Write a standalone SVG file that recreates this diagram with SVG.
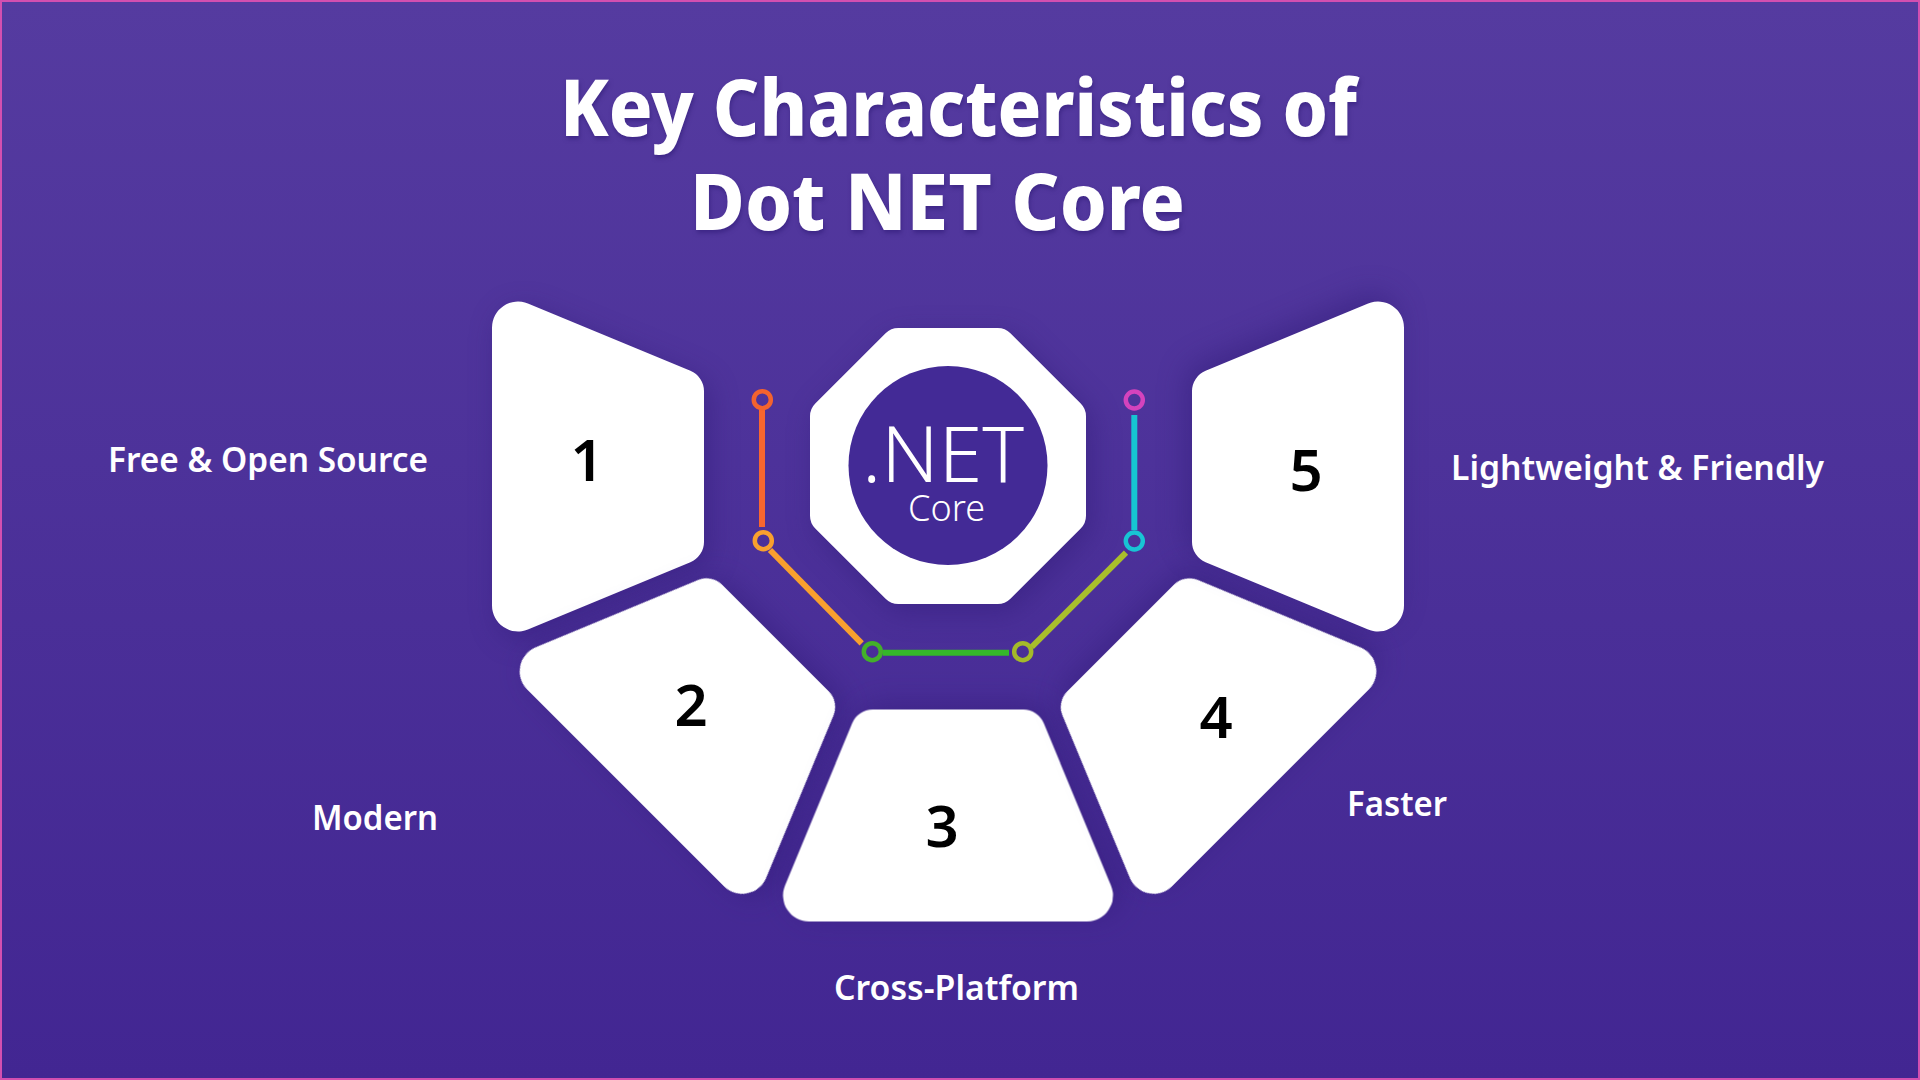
<svg xmlns="http://www.w3.org/2000/svg" width="1920" height="1080" viewBox="0 0 1920 1080">
<style>
text{font-family:"Noto Sans","Open Sans",sans-serif}
.seg{fill:#fff;filter:url(#sh)}
.num{fill:#000;font-size:58px;font-weight:600;text-anchor:middle}
.lab{fill:#fff;font-size:34px;font-weight:600}
.title{fill:#fff;font-size:78px;font-weight:800;filter:url(#ts)}
.ln{fill:none;stroke-width:6}
.rg{fill:none;stroke-width:4.5}
</style>
<defs>
<linearGradient id="bg" x1="0" y1="0" x2="0" y2="1"><stop offset="0" stop-color="#553ba0"/><stop offset="1" stop-color="#422692"/></linearGradient>
<filter id="sh" x="-30%" y="-30%" width="160%" height="160%" color-interpolation-filters="sRGB"><feDropShadow dx="6" dy="8" stdDeviation="14" flood-color="#2a1670" flood-opacity="0.4"/></filter>
<filter id="ts" x="-5%" y="-10%" width="110%" height="130%" color-interpolation-filters="sRGB"><feDropShadow dx="1" dy="3" stdDeviation="2" flood-color="#2a1670" flood-opacity="0.5"/></filter>
<path id="seg" d="M492,326.5 A26,26 0 0 1 527.9,302.5 L690.4,369.8 A22,22 0 0 1 704,390.1 L704,540.9 A22,22 0 0 1 690.4,561.2 L527.9,628.5 A26,26 0 0 1 492,604.5 Z"/>
</defs>
<rect x="1" y="1" width="1918" height="1078" fill="url(#bg)" stroke="#d34fb0" stroke-width="2"/>
<g id="title"><text class="title" x="560" y="136" textLength="797" lengthAdjust="spacingAndGlyphs">Key Characteristics of</text><text class="title" x="690" y="230" textLength="495" lengthAdjust="spacingAndGlyphs">Dot NET Core</text></g>
<g id="node-1"><use href="#seg" class="seg" transform="translate(0 1)"/><text class="num" x="587" y="481">1</text><text class="lab" x="108" y="472" textLength="320" lengthAdjust="spacingAndGlyphs">Free &amp; Open Source</text></g>
<g id="node-2"><use href="#seg" class="seg" transform="rotate(-45 948 465.5)"/><text class="num" x="691" y="726">2</text><text class="lab" x="312" y="830" textLength="126" lengthAdjust="spacingAndGlyphs">Modern</text></g>
<g id="node-3"><use href="#seg" class="seg" transform="rotate(-90 948 465.5)"/><text class="num" x="942" y="847">3</text><text class="lab" x="834" y="1000" textLength="245" lengthAdjust="spacingAndGlyphs">Cross-Platform</text></g>
<g id="node-4"><use href="#seg" class="seg" transform="rotate(-135 948 465.5)"/><text class="num" x="1216" y="738">4</text><text class="lab" x="1347" y="816" textLength="100" lengthAdjust="spacingAndGlyphs">Faster</text></g>
<g id="node-5"><use href="#seg" class="seg" transform="translate(0 1) rotate(-180 948 465.5)"/><text class="num" x="1306" y="491">5</text><text class="lab" x="1451" y="480" textLength="373" lengthAdjust="spacingAndGlyphs">Lightweight &amp; Friendly</text></g>
<g id="center">
<polygon points="898.3,346 997.7,346 1068,416.3 1068,515.7 997.7,586 898.3,586 828,515.7 828,416.3" fill="#fff" stroke="#fff" stroke-width="36" stroke-linejoin="round" filter="url(#sh)"/>
<circle cx="948" cy="465.5" r="99.5" fill="#432a96"/>
<text x="862" y="481.5" fill="#fff" font-size="78" font-weight="350" textLength="162" lengthAdjust="spacingAndGlyphs">.NET</text>
<text x="908" y="521" fill="#fff" font-size="36" font-weight="350">Core</text>
</g>
<g id="connectors">
<line class="ln" x1="762" y1="406" x2="762" y2="527" stroke="#f8662f"/>
<line class="ln" x1="770" y1="550" x2="861.7" y2="643.3" stroke="#f9a02e"/>
<line class="ln" x1="883" y1="652.7" x2="1009" y2="652.7" stroke="#35b82a"/>
<line class="ln" x1="1031.7" y1="647" x2="1126" y2="552.7" stroke="#a9bf2b"/>
<line class="ln" x1="1134.3" y1="415" x2="1134.3" y2="530" stroke="#16c5d2"/>
<circle class="rg" cx="762.3" cy="399.7" r="8.5" stroke="#f4632e"/>
<circle class="rg" cx="763.3" cy="540.7" r="8.5" stroke="#f9a02e"/>
<circle class="rg" cx="872.3" cy="651.7" r="8.5" stroke="#43b02a"/>
<circle class="rg" cx="1022.7" cy="651.7" r="8.5" stroke="#a4ba2a"/>
<circle class="rg" cx="1134.3" cy="541" r="8.5" stroke="#18c4d4"/>
<circle class="rg" cx="1134.3" cy="400" r="8.5" stroke="#d443bd"/>
</g>
</svg>
